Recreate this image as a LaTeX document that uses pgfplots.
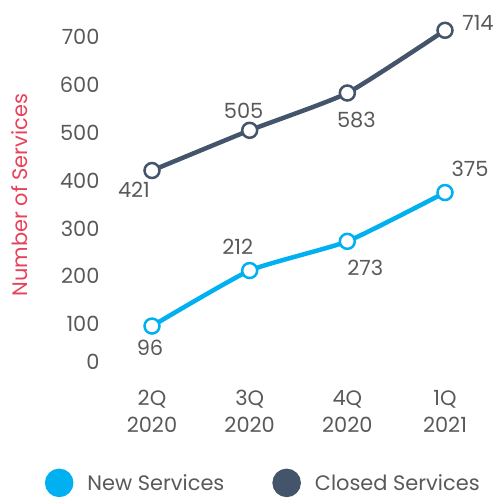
\documentclass[border=0pt]{standalone}
\usepackage{pgfplots}
\pgfplotsset{compat=1.18}
\usepackage{pgfplotstable}
\usepackage{fontspec}
\setmainfont{Poppins}
\definecolor{newc}{HTML}{00B0F0}
\definecolor{closedc}{HTML}{44546A}
\definecolor{labred}{HTML}{E8425A}
\definecolor{txt}{HTML}{595959}

\pgfplotstableread{
x y dx dy
0 96 -2 -22
1 212 -12 24
2 273 18 -26
3 375 25 24
}\newdata
\pgfplotstableread{
x y dx dy
0 421 -18 -19
1 505 -6 19
2 583 9 -27
3 714 33 7
}\closeddata

\begin{document}
\begin{tikzpicture}
\useasboundingbox (-152bp,-126bp) rectangle (343bp,372bp);
\begin{axis}[
  at={(0,0)}, anchor=south west,
  scale only axis, width=293bp, height=335bp,
  xmin=0, xmax=3, ymin=0, ymax=700,
  xtick={0,1,2,3},
  xticklabels={{2Q\\2020},{3Q\\2020},{4Q\\2020},{1Q\\2021}},
  ytick={100,200,...,700},
  extra y ticks={0},
  extra y tick style={yticklabel style={yshift=10bp}},
  axis line style={draw=none}, major tick length=0pt,
  /pgf/number format/assume math mode=true,
  tick label style={font=\fontsize{21}{27}\selectfont, text=txt},
  xticklabel style={align=center, yshift=-15bp},
  yticklabel style={xshift=-49bp},
  ylabel={Number of Services},
  ylabel style={at={(axis description cs:-0.4505,0.528)}, anchor=center, font=\fontsize{21}{25}\selectfont, text=labred},
  clip=false,
  legend style={at={(axis description cs:0.38,-0.331)}, anchor=center, draw=none, fill=none,
    legend columns=2, font=\fontsize{21}{25}\selectfont, text=txt,
    /tikz/every odd column/.append style={column sep=12bp},
    /tikz/every even column/.append style={column sep=46bp}},
  every node near coord/.append style={anchor=center, xshift=\dx bp, yshift=\dy bp, font=\fontsize{21}{25}\selectfont, text=txt},
]
\addplot[newc, line width=4.5bp, smooth, tension=0.3,
  mark=*, mark size=7.5bp, mark options={fill=white, draw=newc, line width=2.5bp, solid},
  nodes near coords, point meta=explicit,
  visualization depends on={\thisrow{dx} \as \dx},
  visualization depends on={\thisrow{dy} \as \dy},
  legend image code/.code={\fill[newc] (0bp,0bp) circle (12bp);}]
  table[x=x, y=y, meta=y] {\newdata};
\addlegendentry{New Services}
\addplot[closedc, line width=4.5bp, smooth, tension=0.3,
  mark=*, mark size=7.5bp, mark options={fill=white, draw=closedc, line width=2.5bp, solid},
  nodes near coords, point meta=explicit,
  visualization depends on={\thisrow{dx} \as \dx},
  visualization depends on={\thisrow{dy} \as \dy},
  legend image code/.code={\fill[closedc] (0bp,0bp) circle (12bp);}]
  table[x=x, y=y, meta=y] {\closeddata};
\addlegendentry{Closed Services}
\end{axis}
\end{tikzpicture}
\end{document}
